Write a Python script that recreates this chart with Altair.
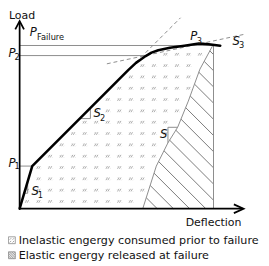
import altair as alt
import pandas as pd
import numpy as np

# ---- data (schematic units: deflection, load) ----
curve_defl = [0, 13, 112, 120, 125, 130, 136, 143, 155, 170, 185, 195, 207]
curve_load = [0, 44, 143, 150.5, 154, 157.5, 161, 163.5, 166, 168.2, 170.5, 169.8, 168.2]

unload_defl = [127, 141, 153, 163, 174, 186, 199]
unload_load = [0, 44, 68, 84, 111, 144, 168]

p_failure = 168.4
p2 = 158
p1 = 44
fail_defl = 200
p2_defl = 130

s2_ext_defl = [120, 166]          # dashed extension of the linear branch (slope S2)
s2_ext_load = [151, 197]
s3_tan_defl = [90, 232]           # dashed tangent at P3 (slope S3)
s3_tan_load = [149.5, 180]

legend_labels = ["Inelastic engergy consumed prior to failure",
                 "Elastic engergy released at failure"]

FONT = "DejaVu Sans"
GRAY = "#8a8a8a"

X = alt.X("d:Q", scale=alt.Scale(domain=[-12, 249], nice=False, zero=False), axis=None)
Y = alt.Y("L:Q", scale=alt.Scale(domain=[-55, 203], nice=False, zero=False), axis=None)

def lines_df(groups):
    rows = []
    for g, (ds, ls) in enumerate(groups):
        for i, (d, l) in enumerate(zip(ds, ls)):
            rows.append({"g": g, "i": i, "d": d, "L": l})
    return pd.DataFrame(rows)

def line_layer(groups, **kw):
    return alt.Chart(lines_df(groups)).mark_line(**kw).encode(
        x=X, y=Y, detail="g:N", order="i:Q")

# ---- inelastic region fill pattern ----
def curve_at(d):
    return np.interp(d, curve_defl, curve_load)

def unload_at(L):
    return np.interp(L, unload_load, unload_defl)

dots = []
for m in range(20):
    d = 8 + 11.9 * m
    for k in range(15):
        L = 7.5 + 11.68 * k
        if L <= curve_at(d) - 3 and d <= unload_at(L) - 2.5:
            dots.append({"d": d, "L": L})
dots_df = pd.DataFrame(dots)

# ---- elastic region hatch ----
hatch = []
Ls = np.linspace(0, 168, 3000)
for k in range(-1, 15):
    d0 = 142 + 16.7 * k
    gvals = unload_at(Ls) + Ls - d0
    idx = np.where(np.diff(np.sign(gvals)) != 0)[0]
    if len(idx) == 0:
        continue
    Ls0 = Ls[idx[0]]
    ds0 = unload_at(Ls0)
    de = min(d0, fail_defl)
    le = d0 - de
    if le > p_failure or ds0 >= de:
        continue
    hatch.append(([ds0, de], [Ls0, le]))

# S triangles (on curves)
s1_tri = ([4.7, 8.3, 8.3], [16, 16, 28.2])
s2_tri = ([62, 73, 73], [93, 93, 104])
s_tri = ([unload_defl[3], unload_defl[2], unload_defl[2]],
         [unload_load[3], unload_load[3], unload_load[2]])

layers = []
# fill pattern glyphs
layers.append(alt.Chart(dots_df).mark_point(
    shape="M-1,0.6L-0.3,-0.6M-0.1,0.6L0.6,-0.6M0.9,0.6L1,0.5M-1,-0.4L-0.9,-0.5",
    size=20, filled=False, stroke="#7a7a7a", strokeWidth=0.9).encode(x=X, y=Y))
# hatch
layers.append(line_layer(hatch, stroke="#555555", strokeWidth=0.8))
# reference lines
layers.append(line_layer([
    ([0, 207], [p_failure, p_failure]),
    ([0, p2_defl], [p2, p2]),
    ([0, 13], [p1, p1]),
    ([fail_defl, fail_defl], [0, p_failure]),
    (unload_defl, unload_load),
    s1_tri, s2_tri, s_tri,
], stroke=GRAY, strokeWidth=1))
# dashed tangents
layers.append(line_layer([(s2_ext_defl, s2_ext_load), (s3_tan_defl, s3_tan_load)],
                         stroke=GRAY, strokeWidth=1, strokeDash=[4, 3]))
# axes with arrows
layers.append(line_layer([
    ([0, 0], [0, 193]),
    ([0, 230], [0, 0]),
    ([-4.5, 0, 4.5], [185, 193.5, 185]),
    ([221, 231, 221], [4.5, 0, -4.5]),
], stroke="black", strokeWidth=1.8))
# main curve
layers.append(line_layer([(curve_defl, curve_load)], stroke="black", strokeWidth=2.6,
                         strokeCap="round", strokeJoin="round"))

def text_layer(rows, **kw):
    return alt.Chart(pd.DataFrame(rows)).mark_text(font=FONT, color="#111111", **kw).encode(
        x=X, y=Y, text="t:N")

layers.append(text_layer([
    {"t": "P", "d": 14, "L": 182}, {"t": "P", "d": -8, "L": 161},
    {"t": "P", "d": -8, "L": 47.5}, {"t": "P", "d": 179.5, "L": 178},
    {"t": "S", "d": 16, "L": 18.5}, {"t": "S", "d": 80, "L": 98.5},
    {"t": "S", "d": 148.5, "L": 77}, {"t": "S", "d": 223.5, "L": 172.5},
], fontSize=12, fontStyle="italic", align="center", baseline="middle"))
layers.append(text_layer([
    {"t": "2", "d": -2.5, "L": 156}, {"t": "1", "d": -2.5, "L": 43.5},
    {"t": "3", "d": 185.5, "L": 173}, {"t": "1", "d": 21.5, "L": 14},
    {"t": "2", "d": 85.5, "L": 94}, {"t": "3", "d": 229, "L": 168.5},
], fontSize=8.5, align="center", baseline="middle"))
layers.append(text_layer([{"t": "Failure", "d": 18, "L": 177.5}],
                         fontSize=8.5, align="left", baseline="middle"))
layers.append(text_layer([{"t": "Load", "d": 2.5, "L": 199}, {"t": "Deflection", "d": 200, "L": -15}],
                         fontSize=11.3, align="center", baseline="middle"))
layers.append(text_layer([{"t": legend_labels[0], "d": -1, "L": -33},
                          {"t": legend_labels[1], "d": -1, "L": -48.5}],
                         fontSize=11.5, align="left", baseline="middle"))
# legend icons
layers.append(alt.Chart(pd.DataFrame([{"d": -8, "L": -32.5}])).mark_point(
    shape="M-1,-1H1V1H-1Z M-0.65,-0.15L-0.2,-0.6 M0.2,-0.15L0.65,-0.6 M-0.65,0.65L-0.2,0.2 M0.2,0.65L0.65,0.2",
    size=50, filled=False, stroke="#555555", strokeWidth=0.8).encode(x=X, y=Y))
layers.append(alt.Chart(pd.DataFrame([{"d": -8, "L": -48}])).mark_point(
    shape="M-1,-1H1V1H-1Z M-1,-0.5L0.5,1 M-1,0L0,1 M-1,0.5L-0.5,1 M-0.5,-1L1,0.5 M0,-1L1,0 M0.5,-1L1,-0.5 M-1,-1L1,1",
    size=50, filled=False, stroke="#555555", strokeWidth=0.8).encode(x=X, y=Y))

chart = alt.layer(*layers).properties(
    width=261, height=258,
    autosize=alt.AutoSizeParams(type="none"),
    padding=0,
).configure_view(stroke=None)

chart.save("out.html", embed_options={"renderer": "svg", "actions": False})
